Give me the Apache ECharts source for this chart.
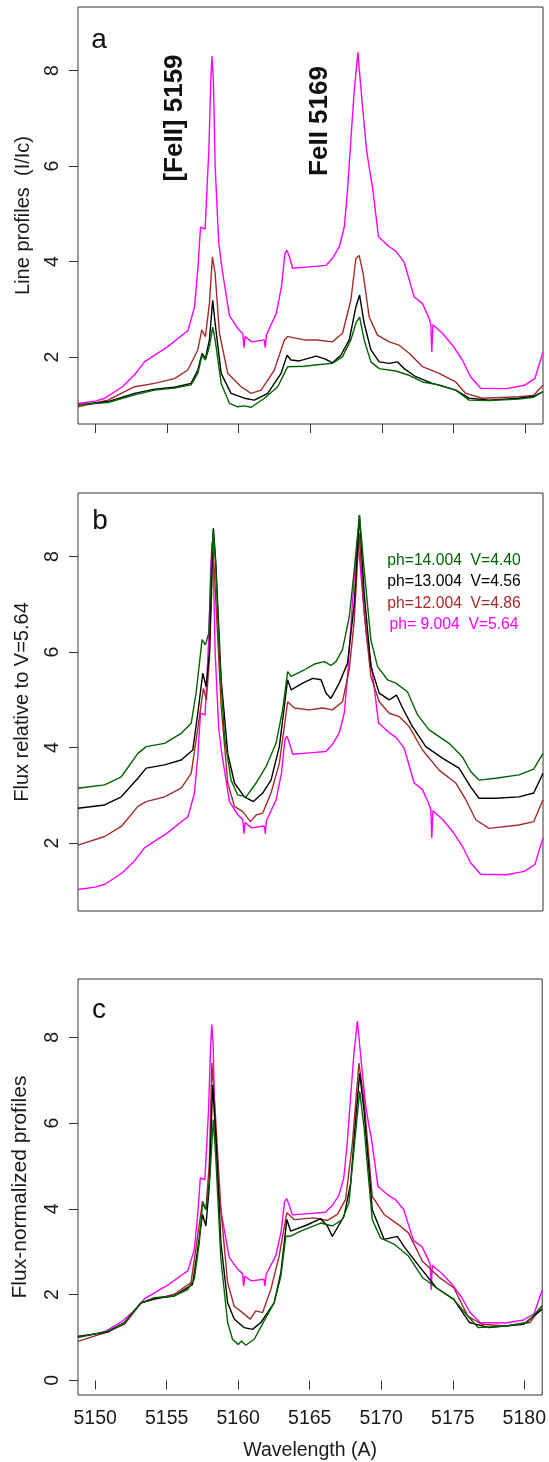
<!DOCTYPE html>
<html>
<head>
<meta charset="utf-8">
<script src="https://cdn.jsdelivr.net/npm/echarts@6/dist/echarts.min.js"></script>
<style>
html,body{margin:0;padding:0;background:#fff;}
#chart{width:549px;height:1462px;}
</style>
</head>
<body>
<div id="chart"></div>
<script>
// ---- tick labels ----
const xTicks = [5150, 5155, 5160, 5165, 5170, 5175, 5180];
const yTicksAB = [2, 4, 6, 8];
const yTicksC = [0, 2, 4, 6, 8];

// ---- legend labels ----
const seriesNames = ['ph= 9.004  V=5.64', 'ph=12.004  V=4.86', 'ph=13.004  V=4.56', 'ph=14.004  V=4.40'];

// ---- magenta, ph=9.004 (same curve in all three panels) [wavelength, value] ----
const magenta = [[5148.8,1.03],[5150.0,1.08],[5150.68,1.14],[5151.9,1.38],[5152.8,1.65],[5153.44,1.9],[5154.34,2.08],[5155.07,2.22],[5156.23,2.5],[5156.47,2.55],[5156.93,3.05],[5157.16,3.83],[5157.35,4.72],[5157.67,4.68],[5157.93,6.33],[5158.07,7.79],[5158.15,8.3],[5158.25,7.8],[5158.37,6.0],[5158.62,4.4],[5158.85,3.85],[5159.37,2.87],[5159.95,2.6],[5160.3,2.49],[5160.38,2.2],[5160.46,2.43],[5160.93,2.32],[5161.8,2.36],[5161.87,2.2],[5161.95,2.47],[5162.63,2.91],[5163.0,3.47],[5163.24,4.17],[5163.38,4.24],[5163.55,4.1],[5163.78,3.86],[5164.94,3.89],[5166.1,3.92],[5166.56,4.07],[5167.03,4.31],[5167.38,4.72],[5167.61,5.49],[5167.84,6.54],[5168.08,7.58],[5168.33,8.38],[5168.66,7.23],[5168.94,6.33],[5169.12,5.98],[5169.35,5.56],[5169.77,4.52],[5170.52,4.31],[5170.98,4.22],[5171.56,3.99],[5172.26,3.26],[5172.84,3.12],[5173.26,2.84],[5173.42,2.7],[5173.49,2.11],[5173.57,2.68],[5174.23,2.5],[5174.93,2.25],[5175.62,1.94],[5176.2,1.59],[5176.9,1.35],[5178.7,1.34],[5179.95,1.41],[5180.68,1.55],[5181.25,2.11]];

// ---- panel a: line profiles (I/Ic) ----
const brownA = [[5148.8,0.96],[5150.89,1.1],[5152.75,1.38],[5154.14,1.45],[5155.53,1.55],[5156.46,1.73],[5157.16,2.15],[5157.44,2.57],[5157.69,2.43],[5157.97,3.12],[5158.18,4.1],[5158.37,3.75],[5158.67,2.5],[5159.25,1.66],[5160.18,1.38],[5160.88,1.24],[5161.58,1.31],[5162.5,1.73],[5163.2,2.36],[5163.44,2.43],[5164.6,2.36],[5165.5,2.36],[5166.56,2.32],[5167.26,2.5],[5167.84,3.19],[5168.19,4.06],[5168.42,4.13],[5168.7,3.75],[5169.12,2.84],[5169.7,2.46],[5170.52,2.32],[5171.21,2.25],[5171.91,2.08],[5172.84,1.8],[5174.0,1.66],[5175.16,1.48],[5175.86,1.24],[5177.02,1.14],[5179.57,1.17],[5180.6,1.2],[5181.25,1.41]];
const blackA = [[5148.8,1.0],[5150.89,1.07],[5152.75,1.24],[5154.14,1.33],[5155.53,1.37],[5156.69,1.45],[5157.16,1.73],[5157.46,2.08],[5157.69,1.97],[5157.97,2.36],[5158.2,3.19],[5158.37,2.71],[5158.79,1.66],[5159.48,1.24],[5160.41,1.14],[5161.11,1.1],[5162.04,1.24],[5162.97,1.66],[5163.39,2.04],[5163.66,1.94],[5164.25,1.92],[5165.41,2.02],[5165.99,1.97],[5166.56,1.88],[5167.14,2.04],[5167.73,2.36],[5168.19,3.05],[5168.45,3.3],[5168.77,2.71],[5169.24,2.15],[5169.82,1.9],[5170.52,1.87],[5171.1,1.9],[5171.56,1.76],[5172.37,1.59],[5173.53,1.45],[5175.16,1.31],[5176.09,1.14],[5177.48,1.1],[5179.57,1.14],[5180.6,1.18],[5181.25,1.28]];
const greenA = [[5148.8,1.0],[5150.89,1.05],[5152.75,1.21],[5154.14,1.31],[5155.53,1.35],[5156.69,1.42],[5157.16,1.66],[5157.46,2.04],[5157.69,1.94],[5157.97,2.22],[5158.2,2.63],[5158.37,2.36],[5158.79,1.45],[5159.37,1.03],[5159.95,0.96],[5160.41,0.98],[5160.88,0.95],[5161.81,1.14],[5162.74,1.38],[5163.2,1.66],[5163.44,1.8],[5164.6,1.81],[5165.5,1.84],[5166.56,1.87],[5167.26,2.01],[5167.84,2.36],[5168.19,2.71],[5168.45,2.84],[5168.77,2.36],[5169.24,1.9],[5169.82,1.76],[5170.98,1.71],[5171.91,1.62],[5172.84,1.48],[5174.0,1.42],[5175.16,1.31],[5176.09,1.1],[5177.48,1.09],[5179.57,1.12],[5180.6,1.16],[5181.25,1.28]];

// ---- panel b: flux relative to V=5.64 ----
const brownB = [[5148.8,1.96],[5150.66,2.14],[5151.82,2.35],[5152.98,2.77],[5153.56,2.87],[5154.84,2.97],[5156.0,3.15],[5156.7,3.46],[5157.16,4.4],[5157.55,5.24],[5157.76,5.0],[5157.97,5.84],[5158.14,7.37],[5158.2,8.28],[5158.37,7.37],[5158.79,4.86],[5159.25,3.26],[5159.72,2.77],[5160.3,2.66],[5160.83,2.45],[5161.23,2.59],[5161.69,2.63],[5162.27,3.05],[5162.85,3.67],[5163.43,4.96],[5163.9,4.83],[5164.94,4.79],[5165.87,4.83],[5166.56,4.79],[5167.26,4.96],[5167.73,5.63],[5168.08,6.67],[5168.42,8.49],[5168.77,6.81],[5169.24,5.49],[5169.82,4.96],[5170.52,4.72],[5171.21,4.65],[5171.91,4.44],[5172.84,3.95],[5174.0,3.53],[5175.16,3.26],[5175.86,2.91],[5176.56,2.49],[5177.48,2.31],[5179.57,2.38],[5180.6,2.45],[5181.25,2.91]];
const blackB = [[5148.8,2.73],[5150.66,2.8],[5151.82,2.97],[5152.98,3.36],[5153.56,3.57],[5154.84,3.64],[5156.0,3.74],[5156.81,3.95],[5157.16,4.72],[5157.51,5.56],[5157.74,5.28],[5157.97,5.98],[5158.14,7.72],[5158.25,8.59],[5158.42,7.86],[5158.79,5.42],[5159.25,3.88],[5159.72,3.26],[5160.41,2.97],[5161.04,2.87],[5161.69,3.05],[5162.27,3.32],[5162.85,4.02],[5163.43,5.42],[5163.67,5.21],[5164.48,5.35],[5165.18,5.45],[5165.76,5.42],[5166.11,5.14],[5166.45,5.03],[5167.03,5.35],[5167.61,5.77],[5168.08,7.02],[5168.44,8.87],[5168.77,7.23],[5169.24,5.7],[5169.82,5.14],[5170.52,5.0],[5171.03,5.1],[5171.45,4.83],[5172.14,4.44],[5173.07,4.02],[5174.23,3.78],[5175.39,3.57],[5176.2,3.18],[5176.78,2.94],[5177.94,2.94],[5179.57,2.97],[5180.6,3.05],[5181.25,3.46]];
const greenB = [[5148.8,3.15],[5150.66,3.22],[5151.82,3.39],[5152.98,3.88],[5153.56,4.02],[5154.84,4.09],[5156.0,4.3],[5156.7,4.51],[5157.04,5.14],[5157.46,6.26],[5157.69,6.15],[5157.93,6.4],[5158.09,7.72],[5158.23,8.55],[5158.39,7.93],[5158.67,5.98],[5159.02,4.23],[5159.48,3.32],[5159.95,3.01],[5160.53,2.97],[5161.23,3.26],[5161.92,3.6],[5162.62,4.09],[5163.08,4.79],[5163.43,5.59],[5163.67,5.49],[5164.6,5.63],[5165.3,5.75],[5165.98,5.8],[5166.45,5.72],[5166.8,5.8],[5167.26,6.05],[5167.73,6.74],[5168.08,7.72],[5168.44,8.87],[5168.77,7.72],[5169.24,6.25],[5169.7,5.7],[5170.4,5.42],[5170.98,5.35],[5171.79,5.17],[5172.49,4.69],[5173.3,4.37],[5174.7,4.09],[5175.62,3.81],[5176.2,3.5],[5176.78,3.32],[5177.94,3.36],[5179.57,3.43],[5180.6,3.55],[5181.25,3.88]];

// ---- panel c: flux-normalized profiles ----
const brownC = [[5148.79,0.91],[5150.88,1.13],[5152.05,1.31],[5153.21,1.81],[5154.14,1.89],[5155.53,2.01],[5156.7,2.28],[5157.16,3.36],[5157.51,4.18],[5157.74,3.98],[5157.98,5.07],[5158.16,7.4],[5158.37,6.39],[5158.79,3.98],[5159.26,2.28],[5159.72,1.73],[5160.3,1.58],[5160.84,1.43],[5161.23,1.62],[5161.7,1.58],[5162.28,2.12],[5162.86,2.9],[5163.4,3.91],[5163.91,3.75],[5165.3,3.79],[5166.23,3.73],[5166.93,3.87],[5167.51,4.22],[5167.98,5.53],[5168.44,7.4],[5168.79,6.54],[5169.37,4.29],[5170.2,3.87],[5171.17,3.64],[5171.9,3.44],[5172.88,2.78],[5174.1,2.39],[5175.07,2.16],[5176.05,1.5],[5177.02,1.31],[5178.73,1.27],[5180.4,1.35],[5181.25,1.74]];
const blackC = [[5148.79,1.02],[5150.88,1.13],[5152.05,1.35],[5153.21,1.81],[5154.14,1.91],[5155.53,1.97],[5156.81,2.24],[5157.16,3.05],[5157.51,3.87],[5157.74,3.6],[5157.98,4.53],[5158.21,6.89],[5158.44,5.69],[5158.79,3.21],[5159.26,1.81],[5159.72,1.43],[5160.42,1.23],[5161.0,1.19],[5161.58,1.35],[5162.51,1.81],[5162.98,2.51],[5163.4,3.75],[5163.67,3.48],[5164.84,3.63],[5165.77,3.77],[5166.23,3.6],[5166.58,3.36],[5166.93,3.56],[5167.4,3.83],[5167.86,4.6],[5168.21,6.08],[5168.49,7.16],[5168.79,6.31],[5169.37,3.98],[5170.2,3.29],[5171.12,3.36],[5171.66,3.09],[5172.63,2.67],[5173.85,2.16],[5175.07,1.89],[5176.17,1.35],[5177.51,1.23],[5179.95,1.31],[5181.25,1.66]];
const greenC = [[5148.79,1.0],[5150.88,1.15],[5152.05,1.35],[5153.21,1.81],[5154.14,1.93],[5155.53,1.97],[5156.47,2.12],[5156.93,2.36],[5157.28,3.21],[5157.51,4.14],[5157.74,3.98],[5158.02,4.76],[5158.26,6.08],[5158.44,5.15],[5158.79,2.82],[5159.26,1.35],[5159.6,0.96],[5160.0,0.84],[5160.23,0.92],[5160.53,0.82],[5161.12,0.96],[5161.81,1.39],[5162.51,1.81],[5162.98,2.43],[5163.33,3.36],[5163.63,3.36],[5164.37,3.48],[5165.77,3.67],[5166.58,3.6],[5167.28,3.75],[5167.74,4.14],[5168.09,5.38],[5168.49,6.74],[5168.79,5.92],[5169.37,3.75],[5169.95,3.32],[5170.93,3.17],[5171.9,2.9],[5172.88,2.4],[5173.85,2.16],[5175.07,1.89],[5176.05,1.5],[5176.78,1.23],[5178.73,1.27],[5180.2,1.35],[5181.25,1.74]];

const COLORS = {magenta:'#ff00ff', brown:'#a52a2a', black:'#000000', green:'#006400'};
const FONT = 'Liberation Sans, Arial, Helvetica, sans-serif';
const AXC = '#333';

const grids = [
  {left:78, top:7, width:465, height:417},
  {left:78, top:493, width:465, height:418},
  {left:78, top:979, width:465, height:417}
].map(g => Object.assign({show:true, borderColor:AXC, borderWidth:1, backgroundColor:'transparent'}, g));

function xAx(i, ticks, labels) {
  return {
    type:'value', gridIndex:i, min:5148.8, max:5181.25,
    axisLine:{show:false}, splitLine:{show:false},
    axisTick:{show:ticks, length:9, customValues:xTicks, lineStyle:{color:AXC}},
    axisLabel:{show:labels, customValues:xTicks, formatter:v => String(v), margin:14, fontSize:19.5, color:'#1a1a1a', fontFamily:FONT},
    name: labels ? 'Wavelength (A)' : '', nameLocation:'middle', nameGap:46,
    nameTextStyle:{fontSize:19.5, color:'#1a1a1a', fontFamily:FONT}
  };
}
function yAx(i, min, max, ticks, name, nsize, gap) {
  return {
    type:'value', gridIndex:i, min:min, max:max,
    axisLine:{show:false}, splitLine:{show:false},
    axisTick:{show:true, length:9, customValues:ticks, lineStyle:{color:AXC}},
    axisLabel:{customValues:ticks, formatter:v => String(v), rotate:90, margin:15, fontSize:19.5, color:'#1a1a1a', fontFamily:FONT},
    name:name, nameLocation:'middle', nameRotate:90, nameGap:gap,
    nameTextStyle:{fontSize:nsize, color:'#1a1a1a', fontFamily:FONT}
  };
}

function ser(i, name, data, color) {
  return {type:'line', name:name, xAxisIndex:i, yAxisIndex:i, data:data, showSymbol:false,
    symbol:'none', lineStyle:{color:color, width:1.4}, itemStyle:{color:color}, animation:false, z:2};
}

const series = [];
[[magenta, brownA, blackA, greenA],[magenta, brownB, blackB, greenB],[magenta, brownC, blackC, greenC]].forEach((set, i) => {
  const cols = [COLORS.magenta, COLORS.brown, COLORS.black, COLORS.green];
  set.forEach((d, k) => series.push(ser(i, seriesNames[k], d, cols[k])));
});

function txt(x, y, text, size, color, weight, rot) {
  return {type:'text', x:x, y:y, rotation:rot || 0, z:10,
    style:{text:text, fontSize:size, fontWeight:weight || 'normal', fontFamily:FONT, fill:color,
      align:'center', verticalAlign:'middle'}};
}

const graphic = [
  txt(99, 40, 'a', 28, '#111'),
  txt(100, 521, 'b', 28, '#111'),
  txt(99, 1010, 'c', 28, '#111'),
  txt(175, 118, '[FeII] 5159', 26, '#111', 'bold', Math.PI/2),
  txt(320, 121, 'FeII 5169', 26, '#111', 'bold', Math.PI/2),
  txt(454, 561, seriesNames[3], 15.7, COLORS.green),
  txt(454, 582, seriesNames[2], 15.7, COLORS.black),
  txt(454, 604, seriesNames[1], 15.7, COLORS.brown),
  txt(454, 625, seriesNames[0], 15.7, COLORS.magenta)
];

const chart = echarts.init(document.getElementById('chart'), null, {renderer:'canvas', width:549, height:1462});
chart.setOption({
  animation:false,
  backgroundColor:'#ffffff',
  grid:grids,
  xAxis:[xAx(0, true, false), xAx(1, false, false), xAx(2, true, true)],
  yAxis:[
    yAx(0, 0.6, 9.33, yTicksAB, 'Line profiles  (I/Ic)', 20, 45),
    yAx(1, 0.58, 9.33, yTicksAB, 'Flux relative to V=5.64', 20, 46),
    yAx(2, -0.34, 9.36, yTicksC, 'Flux-normalized profiles', 21, 47)
  ],
  series:series,
  graphic:graphic
});
</script>
</body>
</html>
